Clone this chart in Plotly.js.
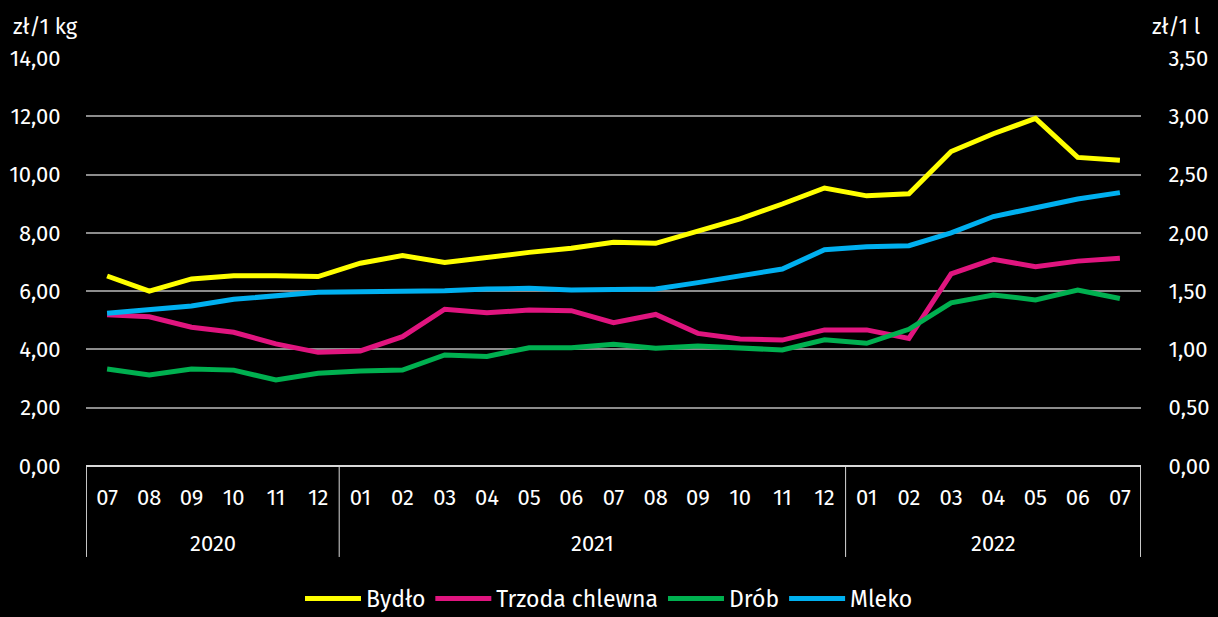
<!DOCTYPE html>
<html>
<head>
<meta charset="utf-8">
<script src="https://cdn.plot.ly/plotly-3.0.1.min.js"></script>
<style>
  html, body { margin: 0; padding: 0; background: #000; }
  #chart { width: 1218px; height: 617px; }
</style>
</head>
<body>
<div id="chart"></div>
<script>
// months 07/2020 - 07/2022
const years = ['2020','2020','2020','2020','2020','2020',
  '2021','2021','2021','2021','2021','2021','2021','2021','2021','2021','2021','2021',
  '2022','2022','2022','2022','2022','2022','2022'];
const months = ['07','08','09','10','11','12',
  '01','02','03','04','05','06','07','08','09','10','11','12',
  '01','02','03','04','05','06','07'];

// zł/1 kg
const bydlo = [6.52, 6.00, 6.42, 6.53, 6.53, 6.50, 6.96, 7.22, 6.98, 7.16, 7.33, 7.47,
  7.68, 7.64, 8.08, 8.48, 8.99, 9.54, 9.27, 9.34, 10.79, 11.40, 11.93, 10.59, 10.49];
const trzoda = [5.19, 5.12, 4.76, 4.59, 4.19, 3.90, 3.95, 4.44, 5.38, 5.26, 5.35, 5.33,
  4.92, 5.20, 4.55, 4.36, 4.32, 4.67, 4.67, 4.38, 6.59, 7.09, 6.84, 7.03, 7.13];
const drob = [3.33, 3.12, 3.33, 3.29, 2.95, 3.18, 3.26, 3.29, 3.81, 3.76, 4.06, 4.06,
  4.18, 4.04, 4.12, 4.06, 3.98, 4.33, 4.21, 4.69, 5.60, 5.87, 5.70, 6.04, 5.75];
// zł/1 l
const mleko = [1.31, 1.344, 1.373, 1.43, 1.461, 1.49, 1.495, 1.495, 1.504, 1.518, 1.524, 1.51,
  1.51, 1.518, 1.573, 1.633, 1.69, 1.855, 1.88, 1.89, 2.00, 2.14, 2.21, 2.29, 2.345];

const FONT = '"Fira Sans", "Noto Sans", "Open Sans", sans-serif';
const SEP = '#d9d9d9';

// unique category keys, shown with the month only
const x = months.map((m, i) => `${m}.${years[i]}`);

function line(name, y, color, axis){
    return {
        x, y, name,
        type: 'scatter',
        mode: 'lines',
        yaxis: axis,
        line: {color, width: 5},
        hoverinfo: 'skip',
    };
}

const data = [
    line('Bydło', bydlo, '#FFFF00', 'y'),
    line('Trzoda chlewna', trzoda, '#E0157F', 'y'),
    line('Drób', drob, '#00B050', 'y'),
    line('Mleko', mleko, '#00B0F0', 'y2'),
];

// year groups -> centred labels and divider lines
const groups = [];
years.forEach((yr, i) => {
    const g = groups[groups.length - 1];
    if (g && g.year === yr) g.end = i;
    else groups.push({year: yr, start: i, end: i});
});

const yearLabels = groups.map(g => ({
    text: g.year, xref: 'x', yref: 'paper',
    x: (g.start + g.end) / 2, y: -0.189,
    xanchor: 'center', yanchor: 'middle', showarrow: false,
    font: {size: 22, color: '#fff'},
}));

const edges = [groups[0].start - 0.5, ...groups.map(g => g.end + 0.5)];
const dividers = edges.map((e, i) => {
    // keep the outer lines just inside the x range so they are not clipped
    const xe = i === 0 ? e + 0.01 : (i === edges.length - 1 ? e - 0.01 : e);
    return {
        type: 'line', xref: 'x', yref: 'paper',
        x0: xe, x1: xe, y0: 0, y1: -0.223,
        line: {color: SEP, width: 1},
        layer: 'above',
    };
});

const layout = {
    width: 1218,
    height: 617,
    paper_bgcolor: '#000',
    plot_bgcolor: '#000',
    separators: ', ',
    font: {family: FONT, size: 22, color: '#fff'},
    margin: {l: 86, r: 77, t: 58, b: 151},
    showlegend: true,
    legend: {
        orientation: 'h',
        xref: 'container', yref: 'container',
        x: 0.5, xanchor: 'center',
        y: 0.03, yanchor: 'middle',
        font: {size: 23, color: '#fff'},
        itemwidth: 56,
        traceorder: 'normal',
    },
    xaxis: {
        type: 'category',
        range: [-0.5, x.length - 0.5],
        tickvals: x,
        ticktext: months,
        showline: false,
        showgrid: false,
        zeroline: false,
        ticks: 'outside',
        ticklen: 12,
        tickcolor: 'rgba(0,0,0,0)',
        tickfont: {size: 22, color: '#fff'},
        automargin: false,
        fixedrange: true,
    },
    yaxis: {
        range: [0, 14],
        dtick: 2,
        tickformat: '.2f',
        showgrid: true,
        gridcolor: '#8c8c8c',
        gridwidth: 1.5,
        zeroline: true,
        zerolinecolor: SEP,
        zerolinewidth: 1.5,
        ticks: 'outside',
        ticklen: 20,
        tickcolor: 'rgba(0,0,0,0)',
        tickfont: {size: 22, color: '#fff'},
        automargin: false,
        fixedrange: true,
    },
    yaxis2: {
        overlaying: 'y',
        side: 'right',
        range: [0, 3.5],
        dtick: 0.5,
        tickformat: '.2f',
        showgrid: false,
        zeroline: false,
        ticks: 'outside',
        ticklen: 22,
        tickcolor: 'rgba(0,0,0,0)',
        tickfont: {size: 22, color: '#fff'},
        automargin: false,
        fixedrange: true,
    },
    shapes: dividers,
    annotations: [
        {text: 'zł/1 kg', xref: 'paper', yref: 'paper', x: -0.071, y: 1.076,
         xanchor: 'left', yanchor: 'middle', showarrow: false, font: {size: 22, color: '#fff'}},
        {text: 'zł/1 l', xref: 'paper', yref: 'paper', x: 1.0085, y: 1.076,
         xanchor: 'left', yanchor: 'middle', showarrow: false, font: {size: 22, color: '#fff'}},
        ...yearLabels,
    ],
};

Plotly.newPlot('chart', data, layout, {displayModeBar: false, responsive: false});
</script>
</body>
</html>
